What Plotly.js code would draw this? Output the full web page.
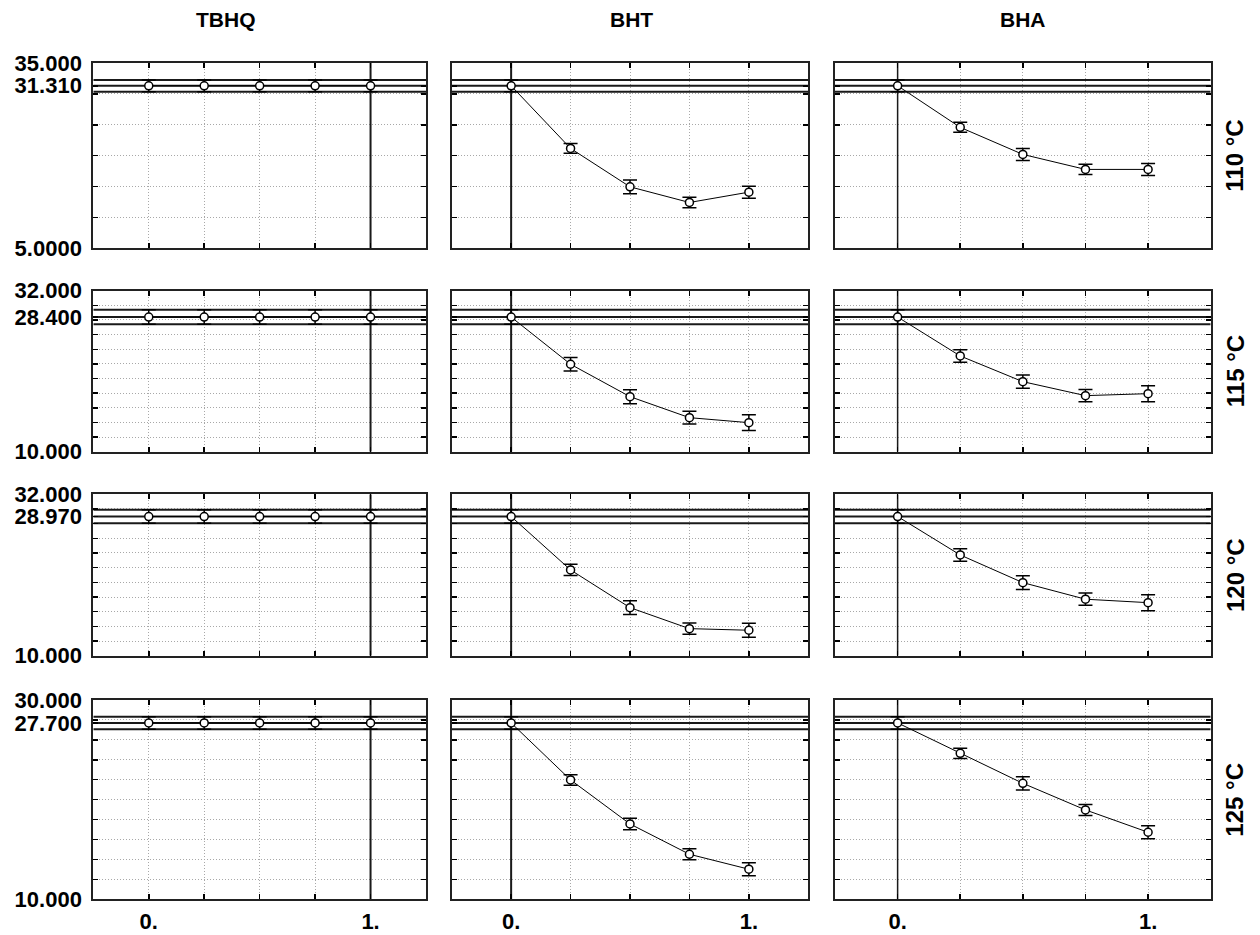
<!DOCTYPE html>
<html>
<head>
<meta charset="utf-8">
<script src="https://cdn.plot.ly/plotly-3.0.1.min.js"></script>
<style>html,body{margin:0;padding:0;background:#fff;}#chart{width:1260px;height:935px;}</style>
</head>
<body>
<div id="chart"></div>
<script>
// ---------- data ----------
const xLevels = [0, 0.25, 0.5, 0.75, 1];
const xRange = [-0.25, 1.25];
const xTickVals = [0, 1];
const xTickText = ['0.', '1.'];
const antioxidants = ['TBHQ', 'BHT', 'BHA'];
const temperatures = ['110 °C', '115 °C', '120 °C', '125 °C'];
const currentLevel = [1, 0, 0];

const yMin = [5, 10, 10, 10];
const yMax = [35, 32, 32, 30];
const gridStep = [5, 2, 2, 2];
const meanValue = [31.31, 28.40, 28.97, 27.70];
const ciHalf = [0.95, 0.98, 0.92, 0.63];
const yTickText = [
  ['5.0000', '31.310', '35.000'],
  ['10.000', '28.400', '32.000'],
  ['10.000', '28.970', '32.000'],
  ['10.000', '27.700', '30.000']
];

// 110 °C
const tbhq110 = [31.31, 31.31, 31.31, 31.31, 31.31];
const tbhq110Err = [0.95, 0.95, 0.95, 0.95, 0.95];
const bht110 = [31.31, 21.17, 14.95, 12.42, 14.09];
const bht110Err = [0.95, 0.78, 1.10, 0.84, 0.97];
const bha110 = [31.31, 24.58, 20.20, 17.77, 17.77];
const bha110Err = [0.95, 0.81, 0.97, 0.84, 0.97];
// 115 °C
const tbhq115 = [28.40, 28.40, 28.40, 28.40, 28.40];
const tbhq115Err = [0.98, 0.98, 0.98, 0.98, 0.98];
const bht115 = [28.40, 21.95, 17.52, 14.65, 13.97];
const bht115Err = [0.98, 0.93, 0.96, 0.87, 1.09];
const bha115 = [28.40, 23.08, 19.57, 17.66, 17.93];
const bha115Err = [0.98, 0.84, 0.91, 0.84, 1.09];
// 120 °C
const tbhq120 = [28.97, 28.97, 28.97, 28.97, 28.97];
const tbhq120Err = [0.92, 0.92, 0.92, 0.92, 0.92];
const bht120 = [28.97, 21.69, 16.55, 13.69, 13.47];
const bht120Err = [0.92, 0.77, 0.95, 0.77, 0.95];
const bha120 = [28.97, 23.73, 19.96, 17.70, 17.23];
const bha120Err = [0.92, 0.86, 0.95, 0.84, 1.09];
// 125 °C
const tbhq125 = [27.70, 27.70, 27.70, 27.70, 27.70];
const tbhq125Err = [0.63, 0.63, 0.63, 0.63, 0.63];
const bht125 = [27.70, 21.98, 17.56, 14.52, 13.02];
const bht125Err = [0.63, 0.53, 0.58, 0.55, 0.65];
const bha125 = [27.70, 24.65, 21.64, 18.97, 16.73];
const bha125Err = [0.63, 0.52, 0.67, 0.55, 0.65];

const seriesValues = [
  [tbhq110, bht110, bha110],
  [tbhq115, bht115, bha115],
  [tbhq120, bht120, bha120],
  [tbhq125, bht125, bha125]
];
const seriesErrors = [
  [tbhq110Err, bht110Err, bha110Err],
  [tbhq115Err, bht115Err, bha115Err],
  [tbhq120Err, bht120Err, bha120Err],
  [tbhq125Err, bht125Err, bha125Err]
];

// ---------- layout geometry (pixels in a 1260x935 page) ----------
const W = 1260, H = 935;
const colPx = [[93.3, 426], [451.7, 808.3], [835, 1210.7]];
const rowPx = [[63, 248.3], [290.7, 451.7], [494.3, 655.7], [700, 899.3]];
const titleX = [226, 631, 1023];
const FONT = 'Liberation Sans, Arial, Helvetica, sans-serif';
const GRID = '#a8a8a8';
const DASH = '1px,2px';

function gridVals(lo, hi, step) {
  const v = [];
  for (let t = lo + step; t < hi - 1e-9; t += step) v.push(+t.toFixed(6));
  return v;
}

const traces = [];
const annotations = [];
const layout = {
  width: W, height: H,
  margin: {l: 0, r: 0, t: 0, b: 0},
  paper_bgcolor: '#fff', plot_bgcolor: '#fff',
  showlegend: false,
  font: {family: FONT, color: '#000'}
};

for (let r = 0; r < 4; r++) {
  for (let c = 0; c < 3; c++) {
    const k = r * 3 + c + 1;
    const xa = 'xaxis' + (k === 1 ? '' : k);
    const ya = 'yaxis' + (k === 1 ? '' : k);
    const xr = 'x' + (k === 1 ? '' : k);
    const yr = 'y' + (k === 1 ? '' : k);

    layout[xa] = {
      domain: [colPx[c][0] / W, colPx[c][1] / W],
      anchor: yr,
      range: xRange,
      tickmode: 'array',
      tickvals: xTickVals,
      ticktext: r === 3 ? xTickText : ['', ''],
      showticklabels: r === 3,
      tickfont: {family: FONT, size: 22, weight: 'bold', color: '#000'},
      ticks: 'inside', ticklen: 5, tickwidth: 1.5, tickcolor: '#000',
      showline: true, linecolor: '#222', linewidth: 2, mirror: 'ticks',
      showgrid: true, gridcolor: GRID, gridwidth: 1, griddash: DASH,
      zeroline: false,
      ticklabelstandoff: 1,
      minor: {tickmode: 'array', tickvals: xLevels, ticks: 'inside', ticklen: 5,
              tickcolor: '#000', showgrid: true, gridcolor: GRID, griddash: DASH, gridwidth: 1},
      fixedrange: true
    };
    layout[ya] = {
      domain: [1 - rowPx[r][1] / H, 1 - rowPx[r][0] / H],
      anchor: xr,
      range: [yMin[r], yMax[r]],
      tickmode: 'array',
      tickvals: [yMin[r], meanValue[r], yMax[r]],
      ticktext: yTickText[r],
      showticklabels: c === 0,
      tickfont: {family: FONT, size: 22, weight: 'bold', color: '#000'},
      ticks: 'inside', ticklen: 5, tickwidth: 1.5, tickcolor: '#000',
      showline: true, linecolor: '#222', linewidth: 2, mirror: 'ticks',
      showgrid: false,
      zeroline: false,
      ticklabelstandoff: 5,
      minor: {tickmode: 'array', tickvals: gridVals(yMin[r], yMax[r], gridStep[r]), ticks: 'inside', ticklen: 5,
              tickcolor: '#000', showgrid: true, gridcolor: GRID, griddash: DASH, gridwidth: 1},
      fixedrange: true
    };

    // current predicted value and its confidence band (across the full axis range)
    [meanValue[r] + ciHalf[r], meanValue[r], meanValue[r] - ciHalf[r]].forEach(v => {
      traces.push({type: 'scatter', mode: 'lines', x: xRange, y: [v, v],
                   xaxis: xr, yaxis: yr, cliponaxis: true,
                   line: {color: '#1a1a1a', width: 2}, hoverinfo: 'skip'});
    });
    // current factor level (vertical line over the full axis range)
    traces.push({type: 'scatter', mode: 'lines',
                 x: [currentLevel[c], currentLevel[c]], y: [yMin[r], yMax[r]],
                 xaxis: xr, yaxis: yr, cliponaxis: true,
                 line: {color: '#1a1a1a', width: c === 2 ? 1.5 : 2}, hoverinfo: 'skip'});

    // profile trace
    traces.push({
      type: 'scatter', mode: 'lines+markers',
      x: xLevels, y: seriesValues[r][c],
      xaxis: xr, yaxis: yr, cliponaxis: false,
      line: {color: '#000', width: 1},
      marker: {symbol: 'circle', size: 8, color: '#fff', line: {color: '#000', width: 1.5}},
      error_y: {type: 'data', array: seriesErrors[r][c], visible: true,
                color: '#000', thickness: 1.5, width: 7},
      hoverinfo: 'skip'
    });
  }
}

antioxidants.forEach((name, c) => {
  annotations.push({text: name, xref: 'paper', yref: 'paper',
    x: titleX[c] / W, y: 1 - 20 / H, xanchor: 'center', yanchor: 'middle', showarrow: false,
    font: {family: FONT, size: 21, weight: 'bold', color: '#000'}});
});
temperatures.forEach((name, r) => {
  annotations.push({text: name, xref: 'paper', yref: 'paper',
    x: 1235 / W, y: 1 - (rowPx[r][0] + rowPx[r][1]) / 2 / H, xanchor: 'center', yanchor: 'middle',
    textangle: -90, showarrow: false,
    font: {family: FONT, size: 24, weight: 'bold', color: '#000'}});
});

layout.annotations = annotations;

Plotly.newPlot('chart', traces, layout, {displayModeBar: false, staticPlot: true});
</script>
</body>
</html>
